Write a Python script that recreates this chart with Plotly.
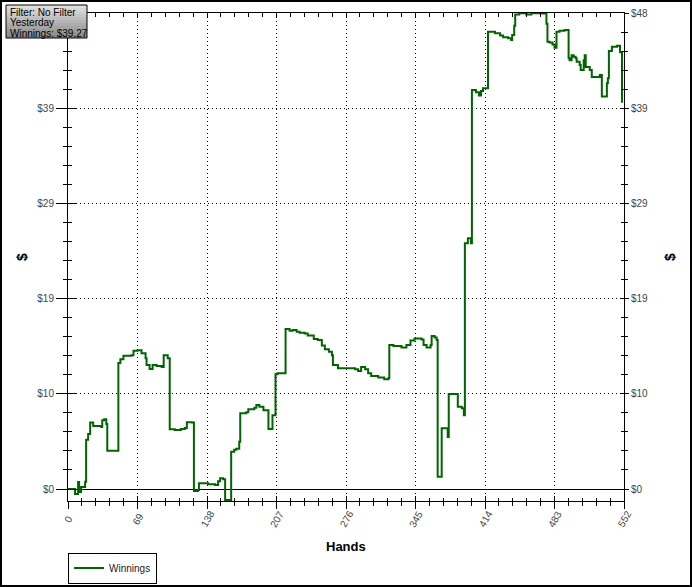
import plotly.graph_objects as go

# ---------------- data ----------------
hands = [0, 7, 10, 11, 13, 17, 18, 20, 22, 25, 33, 34, 36, 38, 39, 50, 52, 55, 63, 65,
         69, 73, 77, 78, 81, 84, 88, 93, 95, 99, 101, 106, 112, 116, 118, 123, 125, 129, 130, 139,
         146, 149, 151, 154, 156, 162, 165, 167, 170, 171, 177, 179, 185, 187, 190, 194, 199, 203, 206, 208,
         216, 220, 223, 227, 230, 235, 238, 244, 248, 252, 255, 259, 262, 263, 268, 285, 288, 291, 295, 298,
         301, 308, 314, 318, 319, 323, 331, 336, 340, 344, 351, 353, 356, 360, 361, 364, 366, 367, 371, 377,
         378, 387, 391, 393, 394, 397, 400, 401, 405, 408, 410, 412, 417, 424, 429, 432, 437, 440, 441, 443,
         444, 448, 455, 460, 470, 473, 475, 476, 478, 481, 483, 485, 488, 493, 497, 498, 500, 502, 504, 505,
         508, 509, 512, 513, 514, 518, 520, 528, 530, 535, 536, 537, 540, 545, 548, 550]
winnings = [0.0, -0.5, 0.7, -0.3, 0.2, 0.75, 5.0, 5.6, 6.75, 6.4, 6.3, 7.0, 7.1, 6.6, 3.9, 12.8, 13.2, 13.55, 13.6, 14.06,
            14.1, 13.8, 13.3, 12.6, 12.2, 12.6, 12.5, 12.4, 13.6, 13.3, 6.07, 6.0, 6.1, 6.2, 6.8, 6.75, -0.2, -0.1, 0.58, 0.48,
            0.4, 0.8, 1.09, 1.0, -1.12, 3.8, 4.0, 4.1, 4.8, 7.7, 7.8, 8.1, 8.27, 8.54, 8.37, 8.0, 6.1, 7.5, 11.66, 11.76,
            16.27, 16.1, 16.17, 16.0, 15.9, 15.8, 15.6, 15.25, 15.15, 14.6, 14.2, 13.96, 13.6, 12.6, 12.27, 12.17, 12.0, 12.4, 12.17, 11.76,
            11.5, 11.35, 11.15, 11.25, 14.64, 14.54, 14.4, 14.64, 15.1, 15.3, 15.2, 14.64, 14.4, 14.64, 15.56, 15.4, 15.15, 1.25, 6.17, 5.3,
            9.66, 8.37, 8.2, 7.5, 24.98, 25.5, 25.0, 40.57, 40.33, 40.0, 40.47, 40.74, 46.5, 46.33, 46.1, 45.93, 45.82, 45.65, 46.16, 47.1,
            48.26, 48.37, 48.26, 48.37, 48.35, 48.37, 47.3, 45.48, 45.4, 45.2, 44.87, 46.5, 46.6, 46.67, 43.8, 43.6, 44.1, 43.96, 43.8, 43.45,
            43.1, 42.6, 43.6, 44.1, 42.9, 42.6, 41.9, 42.1, 39.9, 41.25, 41.76, 44.53, 44.97, 45.07, 44.4, 39.27]

x_ticks = [0, 69, 138, 207, 276, 345, 414, 483, 552]
x_tick_labels = ["0", "69", "138", "207", "276", "345", "414", "483", "552"]
y_ticks = [0, 9.68, 19.36, 29.04, 38.72, 48.4]
y_tick_labels = ["$0", "$10", "$19", "$29", "$39", "$48"]
y_tick_labels_left = ["$0", "$10", "$19", "$29", "$39", ""]  # top-left label is hidden by the info box
info_lines = ["Filter: No Filter", "Yesterday", "Winnings: $39.27"]
series_name = "Winnings"
x_title = "Hands"
y_title = "$"

# ---------------- geometry helpers ----------------
W, H = 692, 587
L, R, T, B = 68, 68, 13, 86
PW = W - L - R
PH = H - T - B
X_RANGE = [0, 552]
Y_RANGE = [-1.22, 48.4]


def px(x):
    return (x - L) / PW


def py(y):
    return (H - B - y) / PH


FONT = "Liberation Sans"
TICKFONT = dict(family=FONT, size=10, color="#444444")
GREEN = "#006400"

fig = go.Figure()
fig.add_trace(go.Scatter(x=hands, y=winnings, mode="lines", name=series_name,
                         line=dict(color=GREEN, width=2, shape="hv"), hoverinfo="x+y"))
# empty helper traces so the overlay axes (crossing ticks) get drawn
fig.add_trace(go.Scatter(x=[], y=[], xaxis="x2", yaxis="y2", showlegend=False, hoverinfo="skip"))
fig.add_trace(go.Scatter(x=[], y=[], xaxis="x3", yaxis="y3", showlegend=False, hoverinfo="skip"))
fig.add_trace(go.Scatter(x=[], y=[], xaxis="x", yaxis="y4", showlegend=False, hoverinfo="skip"))

xminor = lambda t, ln: dict(ticks=t, ticklen=ln, tickmode="linear", tick0=0, dtick=13.8,
                            tickcolor="black", tickwidth=1, showgrid=False)
yminor = lambda t, ln: dict(ticks=t, ticklen=ln, tickmode="linear", tick0=0, dtick=1.936,
                            tickcolor="black", tickwidth=1, showgrid=False)

fig.update_layout(
    width=W, height=H,
    margin=dict(l=L, r=R, t=T, b=B, autoexpand=False),
    paper_bgcolor="white", plot_bgcolor="white",
    font=dict(family=FONT, size=10, color="#222222"),
    xaxis=dict(range=X_RANGE, tickmode="array", tickvals=x_ticks, showticklabels=False,
               ticks="outside", ticklen=7, tickwidth=1, tickcolor="black",
               showline=True, linewidth=1, linecolor="black",
               showgrid=True, gridcolor="black", gridwidth=1, griddash="1px,3px",
               zeroline=False, minor=xminor("outside", 4)),
    xaxis2=dict(range=X_RANGE, overlaying="x", anchor="y", side="bottom",
                tickmode="array", tickvals=x_ticks, showticklabels=False,
                ticks="inside", ticklen=5, tickwidth=1, tickcolor="black",
                showline=False, showgrid=False, zeroline=False, minor=xminor("inside", 3)),
    xaxis3=dict(range=X_RANGE, overlaying="x", anchor="y", side="top",
                tickmode="array", tickvals=x_ticks, showticklabels=False,
                ticks="inside", ticklen=4, tickwidth=1, tickcolor="black",
                showline=True, linewidth=1, linecolor="black",
                showgrid=False, zeroline=False, minor=xminor("inside", 4)),
    yaxis=dict(range=Y_RANGE, tickmode="array", tickvals=y_ticks, ticktext=y_tick_labels_left,
               tickfont=TICKFONT, ticks="outside", ticklen=11, tickwidth=1, tickcolor="black",
               showline=True, linewidth=1, linecolor="black",
               showgrid=True, gridcolor="black", gridwidth=1, griddash="1px,3px",
               zeroline=True, zerolinecolor="black", zerolinewidth=1,
               minor=yminor("outside", 4)),
    yaxis2=dict(range=Y_RANGE, overlaying="y", anchor="x", side="left",
                tickmode="array", tickvals=y_ticks, showticklabels=False,
                ticks="inside", ticklen=8, tickwidth=1, tickcolor="black",
                showline=False, showgrid=False, zeroline=False, minor=yminor("inside", 4)),
    yaxis3=dict(range=Y_RANGE, overlaying="y", anchor="x", side="right",
                tickmode="array", tickvals=y_ticks, ticktext=y_tick_labels, tickfont=TICKFONT,
                ticks="outside", ticklen=4, tickwidth=1, tickcolor="black",
                showline=True, linewidth=1, linecolor="black",
                showgrid=False, zeroline=False, minor=yminor("outside", 3)),
    yaxis4=dict(range=Y_RANGE, overlaying="y", anchor="x", side="right",
                tickmode="array", tickvals=y_ticks, showticklabels=False,
                ticks="inside", ticklen=4, tickwidth=1, tickcolor="black",
                showline=False, showgrid=False, zeroline=False, minor=yminor("inside", 3)),
    showlegend=True,
    legend=dict(x=px(68), y=py(568), xanchor="left", yanchor="middle", orientation="v",
                bgcolor="white", bordercolor="black", borderwidth=1,
                font=dict(family=FONT, size=10, color="#222222"), itemwidth=30,
                tracegroupgap=0),
)

annotations = []
for v, t in zip(x_ticks, x_tick_labels):
    annotations.append(dict(x=v, xref="x", y=py(519), yref="paper", text=t, textangle=-60,
                            showarrow=False, xanchor="center", yanchor="middle", font=TICKFONT))
annotations.append(dict(x=px(22), y=py(257), xref="paper", yref="paper", text=y_title, textangle=-90,
                        showarrow=False, xanchor="center", yanchor="middle",
                        font=dict(family=FONT, size=14, color="black", weight="bold")))
annotations.append(dict(x=px(670), y=py(257), xref="paper", yref="paper", text=y_title, textangle=-90,
                        showarrow=False, xanchor="center", yanchor="middle",
                        font=dict(family=FONT, size=14, color="black", weight="bold")))
annotations.append(dict(x=px(345.5), y=py(546), xref="paper", yref="paper", text=x_title,
                        showarrow=False, xanchor="center", yanchor="middle",
                        font=dict(family=FONT, size=13, color="black", weight="bold")))
for i, line in enumerate(info_lines):
    annotations.append(dict(x=px(8), y=py(12 + 10.6 * i), xref="paper", yref="paper", text=line,
                            showarrow=False, xanchor="left", yanchor="middle",
                            font=dict(family=FONT, size=10, color="black")))

shapes = []
# info box with vertical gray gradient
bx0, bx1, by0, by1 = 6, 87, 5, 38
nb = 11
c_top, c_bot = (224, 224, 224), (138, 138, 138)
for i in range(nb):
    f = i / (nb - 1)
    c = tuple(int(round(a + (b - a) * f)) for a, b in zip(c_top, c_bot))
    ya = by0 + (by1 - by0) * i / nb
    yb = by0 + (by1 - by0) * (i + 1) / nb
    shapes.append(dict(type="rect", xref="paper", yref="paper", layer="above",
                       x0=px(bx0), x1=px(bx1), y0=py(ya), y1=py(yb),
                       fillcolor="rgb(%d,%d,%d)" % c, line=dict(width=0)))
shapes.append(dict(type="rect", xref="paper", yref="paper", layer="above",
                   x0=px(bx0), x1=px(bx1), y0=py(by0), y1=py(by1),
                   line=dict(color="black", width=1)))
# outer frame
shapes.append(dict(type="rect", xref="paper", yref="paper", layer="above",
                   x0=px(1), x1=px(691), y0=py(1), y1=py(586),
                   line=dict(color="black", width=2)))

fig.update_layout(annotations=annotations, shapes=shapes)

fig.write_html("out.html", config={"displayModeBar": False},
               post_script="document.body.style.margin='0';document.body.style.overflow='hidden';")
